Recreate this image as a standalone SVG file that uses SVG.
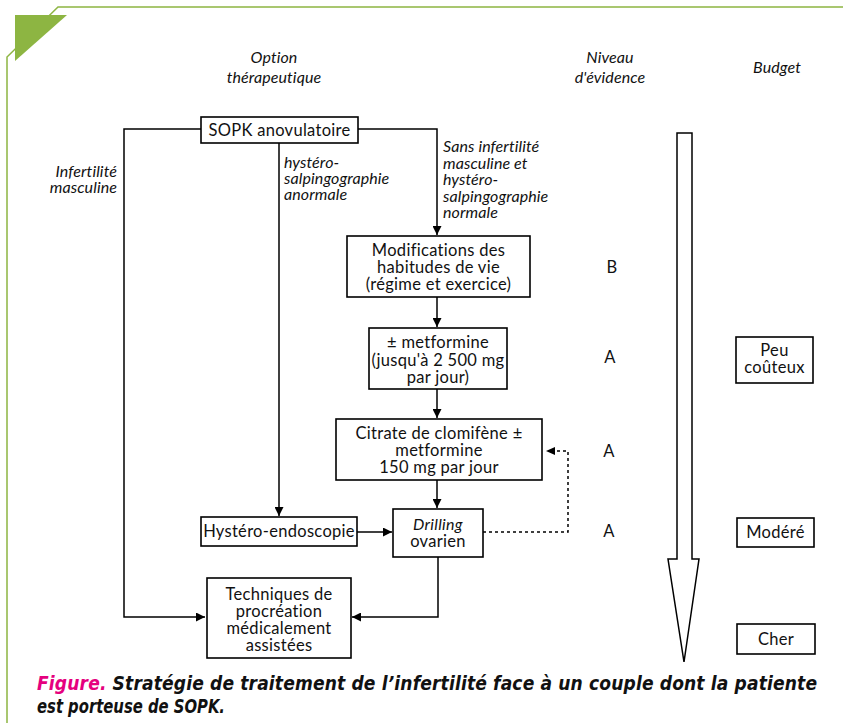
<svg xmlns="http://www.w3.org/2000/svg" width="843" height="723" viewBox="0 0 843 723">
<defs>
<marker id="ah" viewBox="0 0 10 10" refX="10" refY="5" markerWidth="9" markerHeight="9" markerUnits="userSpaceOnUse" orient="auto">
<path d="M0,0 L10,5 L0,10 z" fill="#000"/>
</marker>
</defs>
<style>
.t{font-family:Lato,"Liberation Sans",sans-serif;font-size:16.5px;letter-spacing:0.3px;fill:#111;text-anchor:middle}
.i{font-style:italic;font-size:16px;letter-spacing:0.1px}
.l{text-anchor:start}
.r{text-anchor:end}
.box{fill:#fff;stroke:#000;stroke-width:1.6}
.c{fill:none;stroke:#000;stroke-width:1.5}
.d{fill:none;stroke:#000;stroke-width:1.5;stroke-dasharray:3,3}
.cap{font-family:"DejaVu Sans Condensed","Liberation Sans Narrow","Liberation Sans",sans-serif;font-stretch:condensed;font-size:19px;font-weight:bold;font-style:italic}
</style>
<rect width="843" height="723" fill="#fff"/>
<g id="frame">
<path d="M7,723 L7,57 L58,7 L843,7" fill="none" stroke="#8db542" stroke-width="1.5"/>
<polygon points="15,15 67,15 15,61" fill="#8db542"/>
</g>
<g id="headers">
<text class="t i" x="274" y="63">Option<tspan x="274" dy="20">thérapeutique</tspan></text>
<text class="t i" x="610" y="63">Niveau<tspan x="610" dy="20">d'évidence</tspan></text>
<text class="t i" x="777" y="73">Budget</text>
</g>
<g id="connectors">
<path class="c" d="M201,129 H124 V617 H205" marker-end="url(#ah)"/>
<path class="c" d="M358,129 H437 V235" marker-end="url(#ah)"/>
<path class="c" d="M279,143 V516" marker-end="url(#ah)"/>
<path class="c" d="M437,297 V327" marker-end="url(#ah)"/>
<path class="c" d="M437,389 V418" marker-end="url(#ah)"/>
<path class="c" d="M437,480 V508" marker-end="url(#ah)"/>
<path class="c" d="M357,532 H392" marker-end="url(#ah)"/>
<path class="c" d="M438,557 V617 H352" marker-end="url(#ah)"/>
<path class="d" d="M483,532 H568 V451 H555"/>
<path d="M546,451 L555,447 L555,455 z" fill="#000"/>
</g>
<g id="edge-labels">
<text class="t i r" x="117" y="177">Infertilité<tspan x="117" dy="16">masculine</tspan></text>
<text class="t i l" x="284" y="168">hystéro-<tspan x="284" dy="16">salpingographie</tspan><tspan x="284" dy="15.5">anormale</tspan></text>
<text class="t i l" x="443" y="152">Sans infertilité<tspan x="443" dy="16.5">masculine et</tspan><tspan x="443" dy="16.5">hystéro-</tspan><tspan x="443" dy="16.5">salpingographie</tspan><tspan x="443" dy="16.5">normale</tspan></text>
</g>
<g id="n-sopk">
<rect class="box" x="201" y="117" width="157" height="26"/>
<text class="t" x="279.5" y="136">SOPK anovulatoire</text>
</g>
<g id="n-modif">
<rect class="box" x="347" y="236" width="183" height="61"/>
<text class="t" x="438.5" y="256">Modifications des<tspan x="438.5" dy="17">habitudes de vie</tspan><tspan x="438.5" dy="17">(régime et exercice)</tspan></text>
</g>
<g id="n-metf">
<rect class="box" x="369" y="328" width="138" height="61"/>
<text class="t" x="438" y="348">± metformine<tspan x="438" dy="18">(jusqu'à 2 500 mg</tspan><tspan x="438" dy="17">par jour)</tspan></text>
</g>
<g id="n-citrate">
<rect class="box" x="336" y="419" width="206" height="61"/>
<text class="t" x="439" y="439">Citrate de clomifène ±<tspan x="439" dy="17">metformine</tspan><tspan x="439" dy="17">150 mg par jour</tspan></text>
</g>
<g id="n-drilling">
<rect class="box" x="393" y="509" width="90" height="48"/>
<text class="t" x="438" y="530"><tspan font-style="italic" font-size="16px">Drilling</tspan><tspan x="438" dy="17">ovarien</tspan></text>
</g>
<g id="n-hystero">
<rect class="box" x="201" y="517" width="156" height="29"/>
<text class="t" x="279" y="537">Hystéro-endoscopie</text>
</g>
<g id="n-amp">
<rect class="box" x="207" y="578" width="144" height="80"/>
<text class="t" x="279" y="600">Techniques de<tspan x="279" dy="17">procréation</tspan><tspan x="279" dy="17">médicalement</tspan><tspan x="279" dy="17">assistées</tspan></text>
</g>
<g id="levels">
<text class="t" x="612" y="273">B</text>
<text class="t" x="610" y="363">A</text>
<text class="t" x="609" y="457">A</text>
<text class="t" x="609" y="537">A</text>
</g>
<g id="big-arrow">
<polygon points="677,133 692,133 692,559 699,559 684,662 668,559 677,559" fill="#fff" stroke="#000" stroke-width="1.5" stroke-linejoin="miter"/>
</g>
<g id="b-peu">
<rect class="box" x="736" y="337" width="77" height="46"/>
<text class="t" x="774.5" y="356">Peu<tspan x="774.5" dy="17">coûteux</tspan></text>
</g>
<g id="b-modere">
<rect class="box" x="737" y="518" width="77" height="29"/>
<text class="t" x="775.5" y="538">Modéré</text>
</g>
<g id="b-cher">
<rect class="box" x="737" y="624" width="78" height="30"/>
<text class="t" x="776" y="645">Cher</text>
</g>
<g id="caption">
<text class="cap" x="37" y="690" textLength="780" lengthAdjust="spacing"><tspan fill="#e5007e">Figure.</tspan><tspan fill="#111"> Stratégie de traitement de l’infertilité face à un couple dont la patiente</tspan></text>
<text class="cap" x="37" y="713" fill="#111" textLength="188" lengthAdjust="spacingAndGlyphs">est porteuse de SOPK.</text>
</g>
</svg>
